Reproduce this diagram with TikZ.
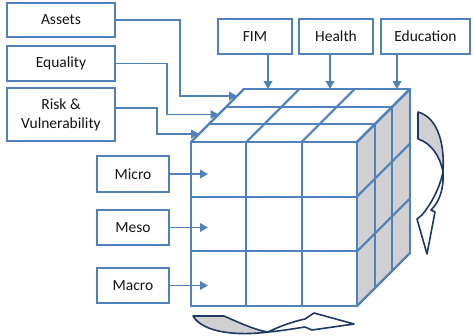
\documentclass[tikz,border=0pt]{standalone}
\usepackage{fontspec}
\setmainfont{Carlito}
\usetikzlibrary{arrows.meta}
\definecolor{cubeblue}{RGB}{79,129,189}
\definecolor{facegray}{RGB}{208,208,208}
\definecolor{navyline}{RGB}{31,56,100}
\definecolor{txt}{RGB}{20,20,20}
\begin{document}
\begin{tikzpicture}[x=1pt,y=-1pt,
  box/.style 2 args={draw=cubeblue, line width=2.3pt, fill=white, minimum width=#1, minimum height=#2,
    inner sep=0pt, align=center, text=txt, font=\fontsize{15.5}{19}\selectfont},
  cube/.style={draw=cubeblue, line width=2.2pt, line cap=round, line join=round},
  arr/.style={draw=cubeblue, line width=1.9pt, -{Triangle[length=8pt,width=8.5pt]}},
  twist/.style={draw=navyline, line width=1.6pt, line join=round}]
\useasboundingbox (0,0) rectangle (473,335);

% cube
\fill[facegray] (357,142) -- (410,89) -- (410,253) -- (357,306) -- cycle;
\foreach \i in {0,1,2,3} {
  \draw[cube] ({191+\i*166/3},142) -- ({191+\i*166/3},306);
  \draw[cube] (191,{142+\i*164/3}) -- (357,{142+\i*164/3});
  \draw[cube] ({191+\i*166/3},142) -- ({244+\i*166/3},89);
  \draw[cube] ({191+\i*53/3},{142-\i*53/3}) -- ({357+\i*53/3},{142-\i*53/3});
  \draw[cube] ({357+\i*53/3},{142-\i*53/3}) -- ({357+\i*53/3},{306-\i*53/3});
  \draw[cube] (357,{142+\i*164/3}) -- (410,{89+\i*164/3});
}

% boxes
\node[box={108}{34}] (assets) at (61,20) {Assets};
\node[box={108}{35}] (equality) at (61,63.5) {Equality};
\node[box={108}{53}] (risk) at (61,114.5) {Risk \&\\Vulnerability};
\node[box={74}{35}] (fim) at (255,36.5) {FIM};
\node[box={74}{35}] (health) at (336,36.5) {Health};
\node[box={89}{35}] (edu) at (425.5,36.5) {Education};
\node[box={72}{36}] (micro) at (133,174) {Micro};
\node[box={72}{35}] (meso) at (133,227.5) {Meso};
\node[box={72}{35}] (macro) at (133,285.5) {Macro};

% arrow end points
\coordinate (k1) at (180,96);   \coordinate (t1) at (237,96);
\coordinate (k2) at (167,114.5); \coordinate (t2) at (218.5,114.5);
\coordinate (s3) at (157,108);  \coordinate (k3) at (157,134); \coordinate (t3) at (199,134);
\coordinate (a1) at (268,89); \coordinate (a2) at (330,89); \coordinate (a3) at (397,89);
\coordinate (m1) at (208,174); \coordinate (m2) at (208,227.5); \coordinate (m3) at (208,285.5);

\draw[arr] (assets.east) -| (k1) -- (t1);
\draw[arr] (equality.east) -| (k2) -- (t2);
\draw[arr] (risk.east |- s3) -| (k3) -- (t3);
\draw[arr] (fim.south -| a1) -- (a1);
\draw[arr] (health.south -| a2) -- (a2);
\draw[arr] (edu.south -| a3) -- (a3);
\draw[arr] (micro.east) -- (m1);
\draw[arr] (meso.east) -- (m2);
\draw[arr] (macro.east) -- (m3);

% curved arrow on the right
\filldraw[twist, fill=facegray] (418,112) .. controls (436,117) and (445,140) .. (443,172)
  .. controls (440,156) and (431,143) .. (418,139) -- cycle;
\filldraw[twist, fill=white] (443,172) .. controls (444,190) and (439,202) .. (431,210)
  -- (435,212) -- (427,254) -- (417,219) -- (422,215)
  .. controls (431,204) and (439,190) .. (443,172) -- cycle;

% curved arrow at the bottom
\filldraw[twist, fill=facegray] (193,316) -- (224,316) .. controls (240,323) and (255,330) .. (268,332)
  .. controls (238,336) and (203,333) .. (193,316) -- cycle;
\filldraw[twist, fill=white] (268,332) .. controls (280,326) and (295,321) .. (305,319)
  -- (314,313) -- (354,324) -- (312,330) -- (305,327)
  .. controls (292,329) and (280,331) .. (268,332) -- cycle;
\end{tikzpicture}
\end{document}
